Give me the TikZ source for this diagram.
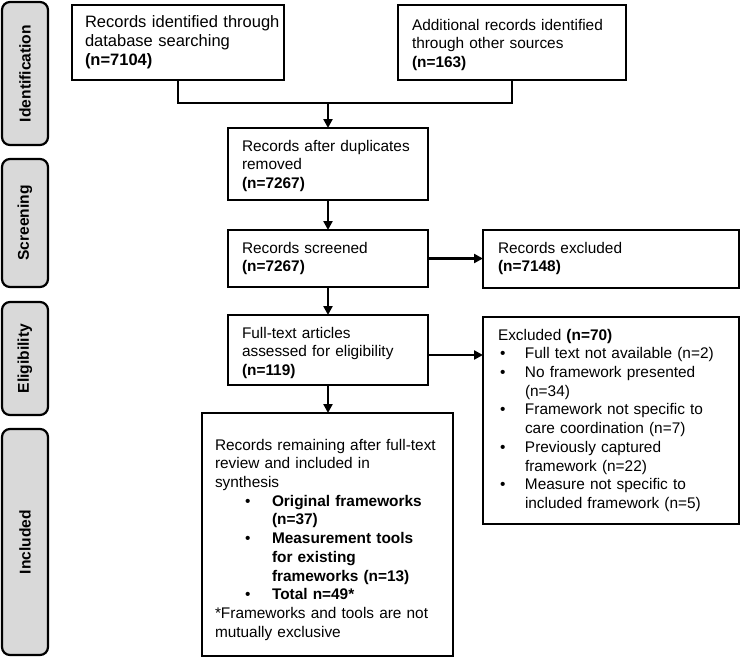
\documentclass[tikz,border=0pt]{standalone}
\usepackage{fontspec}
\setmainfont{Liberation Sans}
\usetikzlibrary{arrows.meta}
\definecolor{sidegray}{HTML}{D9D9D9}
\newcommand\itm[3]{\par\hangindent=#1\hangafter=1\noindent\makebox[#1][l]{\hspace{#2}\textbullet}#3}
\newcommand\nl{\hfil\break}
\begin{document}
\begin{tikzpicture}[x=1pt,y=-1pt,
  box/.style={draw, line width=2.6pt, inner sep=0pt, outer sep=0pt, anchor=north west},
  txt/.style={anchor=north west, inner sep=0pt, outer sep=0pt,
    font=\fontsize{15.4}{18.7}\selectfont, execute at begin node={\raggedright\setlength{\parindent}{0pt}}},
  side/.style={draw, line width=2.2pt, fill=sidegray, rounded corners=8pt, inner sep=0pt,
    rotate=90, font=\fontsize{15.6}{18}\selectfont\bfseries},
  arr/.style={line width=2.6pt, -{Triangle[length=9pt,width=9pt]}},
  ln/.style={line width=2.6pt}
]
\useasboundingbox (0,0) rectangle (742,659);

% side labels
\node[side, minimum width=143pt, minimum height=46pt] (lid) at (25,73.5) {Identification};
\node[side, minimum width=128pt, minimum height=46pt] (lscr) at (25,223) {Screening};
\node[side, minimum width=113pt, minimum height=46pt] (lel) at (25,358.5) {Eligibility};
\node[side, minimum width=226pt, minimum height=46pt] (linc) at (25,542) {Included};

% boxes
\node[box, minimum width=212pt, minimum height=75pt] (id1) at (72,5) {};
\node[box, minimum width=228pt, minimum height=75pt] (id2) at (398,5) {};
\node[box, minimum width=200pt, minimum height=72pt] (dup) at (228,128) {};
\node[box, minimum width=200pt, minimum height=57pt] (scr) at (228,230) {};
\node[box, minimum width=200pt, minimum height=70pt] (full) at (228,315) {};
\node[box, minimum width=256pt, minimum height=58pt] (exc1) at (483,230) {};
\node[box, minimum width=256pt, minimum height=207pt] (exc2) at (483,317) {};
\node[box, minimum width=251pt, minimum height=243pt] (inc) at (202,413) {};

% texts
\node[txt, text width=205pt, font=\fontsize{16.5}{19}\selectfont] (t1) at (85,16) {Records identified through\\database searching\\\textbf{(n=7104)}};
\node[txt, text width=220pt] (t2) at (412,19) {Additional records identified\\through other sources\\\textbf{(n=163)}};
\node[txt, text width=190pt] (t3) at (242,140) {Records after duplicates\\removed\\\textbf{(n=7267)}};
\node[txt, text width=190pt] (t4) at (242,242) {Records screened\\\textbf{(n=7267)}};
\node[txt, text width=190pt] (t5) at (242,327) {Full-text articles\\assessed for eligibility\\\textbf{(n=119)}};
\node[txt, text width=240pt] (t6) at (498,242) {Records excluded\\\textbf{(n=7148)}};
\node[txt, text width=238pt] (t7) at (498,329) {Excluded \textbf{(n=70)}%
\itm{27pt}{2pt}{Full text not available (n=2)}%
\itm{27pt}{2pt}{No framework presented\nl(n=34)}%
\itm{27pt}{2pt}{Framework not specific to\nl care coordination (n=7)}%
\itm{27pt}{2pt}{Previously captured\nl framework (n=22)}%
\itm{27pt}{2pt}{Measure not specific to\nl included framework (n=5)}\par};
\node[txt, text width=236pt] (t8) at (215,439) {Records remaining after full-text\nl review and included in\nl synthesis%
\itm{57pt}{30pt}{\textbf{Original frameworks\nl(n=37)}}%
\itm{57pt}{30pt}{\textbf{Measurement tools\nl for existing\nl frameworks (n=13)}}%
\itm{57pt}{30pt}{\textbf{Total n=49*}}%
\par *Frameworks and tools are not\nl mutually exclusive\par};

% connectors
\coordinate (m) at (328,103);
\draw[ln] (id1.south) |- (m) -| (id2.south);
\draw[arr] (m) -- (dup.north);
\draw[arr] (dup.south) -- (scr.north);
\draw[arr] (scr.south) -- (full.north);
\draw[arr] (full.south) -- (full.south |- inc.north);
\draw[arr] (scr.east) -- (scr.east -| exc1.west);
\draw[arr] ([yshift=-5pt]full.east) -- ([yshift=-5pt]full.east -| exc2.west);
\end{tikzpicture}
\end{document}
